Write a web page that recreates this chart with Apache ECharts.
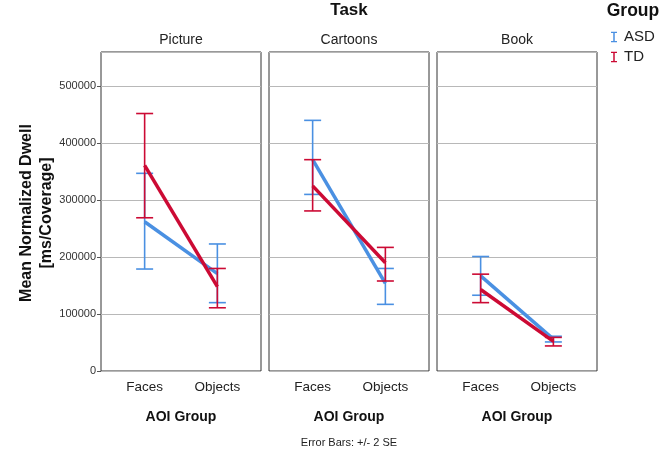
<!DOCTYPE html>
<html>
<head>
<meta charset="utf-8">
<script src="https://cdn.jsdelivr.net/npm/echarts@6/dist/echarts.min.js"></script>
<style>html,body{margin:0;padding:0;background:#fff;}#c{width:669px;height:455px;}</style>
</head>
<body>
<div id="c"></div>
<script>
const tasks = ['Picture', 'Cartoons', 'Book'];
const aoiGroups = ['Faces', 'Objects'];
const groups = ['ASD', 'TD'];
const asdMean = [[262000, 171000], [371000, 154000], [167000, 56000]];
const asdLow  = [[179000, 120000], [310000, 117000], [133000, 51000]];
const asdHigh = [[347000, 223000], [440000, 180000], [201000, 61000]];
const tdMean  = [[361000, 148000], [325000, 190000], [143000, 52000]];
const tdLow   = [[269000, 111000], [281000, 158000], [120000, 44000]];
const tdHigh  = [[452000, 180000], [371000, 217000], [170000, 59000]];
const yTickLabels = [0, 100000, 200000, 300000, 400000, 500000];

const FONT = "'Liberation Sans', Arial, sans-serif";
const colors = { ASD: '#4a90e2', TD: '#cc0a34' };
const panelLeft = [101, 269, 437];
const panelWidth = 160;

const grids = [], xAxes = [], yAxes = [], series = [];
tasks.forEach((t, i) => {
  grids.push({ left: panelLeft[i], top: 52, width: panelWidth, height: 319, show: true, borderColor: '#333', borderWidth: 1, backgroundColor: 'transparent' });
  xAxes.push({
    type: 'value', gridIndex: i, min: -0.6, max: 1.6,
    axisLine: { show: false, onZero: false }, axisTick: { show: false }, splitLine: { show: false },
    axisLabel: { customValues: [0, 1], formatter: v => aoiGroups[Math.round(v)], fontFamily: FONT, fontSize: 13.5, color: '#222', margin: 9 }
  });
  yAxes.push({
    type: 'value', gridIndex: i, min: 0, max: 560000, interval: 100000, position: 'left',
    axisLine: { show: false, onZero: false },
    axisTick: { show: i === 0, length: 4, lineStyle: { color: '#555' } },
    axisLabel: { show: i === 0, showMaxLabel: false, fontFamily: FONT, fontSize: 11, color: '#333', margin: 5,
      formatter: v => (yTickLabels.indexOf(v) >= 0 ? String(v) : '') },
    splitLine: { show: true, lineStyle: { color: '#b8b8b8', width: 1 } }
  });
  const sets = [
    { name: 'ASD', mean: asdMean[i], low: asdLow[i], high: asdHigh[i] },
    { name: 'TD', mean: tdMean[i], low: tdLow[i], high: tdHigh[i] }
  ];
  sets.forEach((s, k) => {
    const col = colors[s.name];
    series.push({
      name: s.name, type: 'line', xAxisIndex: i, yAxisIndex: i, z: 3 + k * 2,
      symbol: 'none', data: [0, 1].map(j => [j, s.mean[j]]),
      color: col,
      lineStyle: { color: col, width: 3.5 }, itemStyle: { color: col }
    });
    series.push({
      name: s.name, type: 'custom', xAxisIndex: i, yAxisIndex: i, z: 2 + k * 2,
      color: col, itemStyle: { color: col },
      encode: { x: 0, y: [1, 2] },
      data: [0, 1].map(j => [j, s.low[j], s.high[j]]),
      renderItem: (params, api) => {
        const x = api.value(0);
        const p1 = api.coord([x, api.value(1)]);
        const p2 = api.coord([x, api.value(2)]);
        const w = 8.5;
        const st = { stroke: col, lineWidth: 1.6 };
        return { type: 'group', children: [
          { type: 'line', shape: { x1: p1[0], y1: p1[1], x2: p2[0], y2: p2[1] }, style: st },
          { type: 'line', shape: { x1: p1[0] - w, y1: p1[1], x2: p1[0] + w, y2: p1[1] }, style: st },
          { type: 'line', shape: { x1: p2[0] - w, y1: p2[1], x2: p2[0] + w, y2: p2[1] }, style: st }
        ]};
      }
    });
  });
});

const ibeam = 'path://M0,0H8V1.8H5V12.2H8V14H0V12.2H3V1.8H0Z';
const txt = (x, y, text, size, bold, color) => ({
  type: 'text', x: x, y: y,
  style: { text: text, x: 0, y: 0, align: 'center', verticalAlign: 'middle', font: (bold ? 'bold ' : '') + size + 'px ' + FONT, fill: color || '#111' }
});

const option = {
  animation: false,
  backgroundColor: '#fff',
  grid: grids, xAxis: xAxes, yAxis: yAxes, series: series,
  legend: {
    orient: 'vertical', left: 611, top: 29, padding: 0, itemGap: 4, itemWidth: 6, itemHeight: 12,
    textStyle: { fontFamily: FONT, fontSize: 15, color: '#222', lineHeight: 16, padding: [0, 0, 0, 2] },
    data: groups.map(g => ({ name: g, icon: ibeam, itemStyle: { color: colors[g], borderWidth: 0 } }))
  },
  graphic: [
    txt(349, 10, 'Task', 17, true),
    txt(633, 11, 'Group', 17.5, true),
    txt(181, 40, tasks[0], 14, false, '#222'),
    txt(349, 40, tasks[1], 14, false, '#222'),
    txt(517, 40, tasks[2], 14, false, '#222'),
    txt(181, 417, 'AOI Group', 14, true),
    txt(349, 417, 'AOI Group', 14, true),
    txt(517, 417, 'AOI Group', 14, true),
    txt(349, 443, 'Error Bars: +/- 2 SE', 11, false, '#222'),
    {
      type: 'text', x: 37, y: 213, rotation: Math.PI / 2,
      style: { text: 'Mean Normalized Dwell\n[ms/Coverage]', x: 0, y: 0, align: 'center', verticalAlign: 'middle', lineHeight: 20, font: 'bold 16px ' + FONT, fill: '#111' }
    }
  ]
};
echarts.init(document.getElementById('c')).setOption(option);
</script>
</body>
</html>
